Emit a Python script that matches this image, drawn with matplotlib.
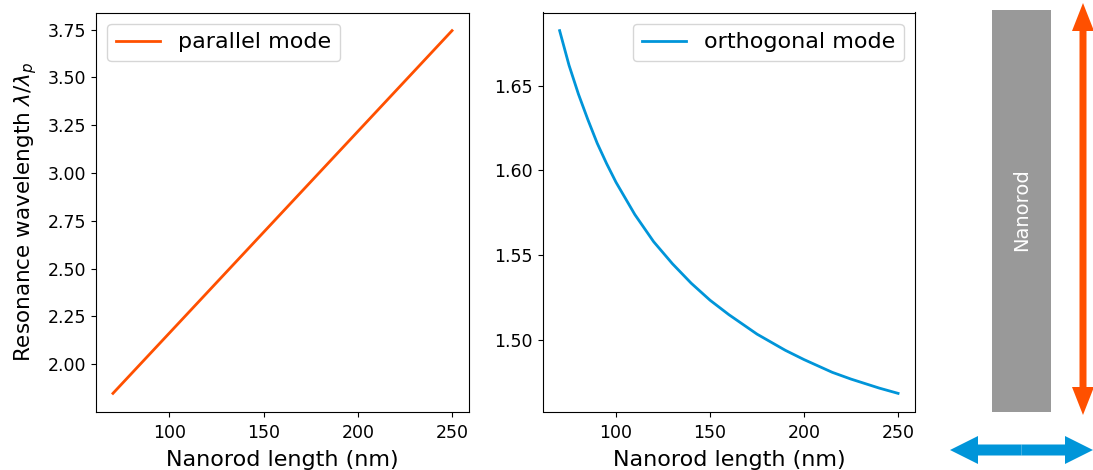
import matplotlib
matplotlib.use("Agg")
import matplotlib.pyplot as plt
from matplotlib.patches import Rectangle, FancyArrow

# Data
length_par = [70, 100, 150, 200, 250]
res_par = [1.848, 2.164, 2.691, 3.218, 3.745]

length_orth = [70, 75, 80, 85, 90, 95, 100, 110, 120, 130, 140, 150, 160, 175, 190, 200, 215, 225, 240, 250]
res_orth = [1.6824, 1.662, 1.645, 1.630, 1.616, 1.604, 1.593, 1.574, 1.558, 1.545, 1.5335, 1.5235, 1.515,
            1.5035, 1.494, 1.4885, 1.481, 1.477, 1.4717, 1.4686]

ORANGE = "#ff5000"
BLUE = "#0095d9"
GRAY = "#999999"

W, H = 1093, 470
fig = plt.figure(figsize=(W / 100, H / 100), dpi=100)

ax1 = fig.add_axes([96 / W, 1 - 411.5 / H, 373 / W, 399 / H])
ax2 = fig.add_axes([542.7 / W, 1 - 411.5 / H, 372.3 / W, 399 / H])

ax1.plot(length_par, res_par, color=ORANGE, lw=2, label="parallel mode")
ax2.plot(length_orth, res_orth, color=BLUE, lw=2, label="orthogonal mode")

for ax in (ax1, ax2):
    ax.set_xlabel("Nanorod length (nm)", fontsize=16, labelpad=6)
    ax.tick_params(labelsize=12.5)
    ax.tick_params(axis="x", pad=5.5)
    ax.set_xticks([100, 150, 200, 250])
ax1.set_ylabel(r"Resonance wavelength $\lambda/\lambda_p$", fontsize=15.5, labelpad=6)
ax1.legend(loc="upper left", fontsize=16)
ax2.legend(loc="upper right", fontsize=16)

# Schematic overlay (pixel coordinates)
ax3 = fig.add_axes([0, 0, 1, 1], zorder=-1)
ax3.set_xlim(0, W)
ax3.set_ylim(H, 0)
ax3.axis("off")
ax3.patch.set_visible(False)
ax3.add_patch(Rectangle((992, 10), 59, 401.5, color=GRAY, lw=0))
ax3.text(1021.5, 210, "Nanorod", color="white", rotation=90, ha="center", va="center", fontsize=14)

cx, cy = 1083, 209
for ty in (3, 415):
    ax3.add_patch(FancyArrow(cx, cy, 0, ty - cy, width=7, head_width=22, head_length=28,
                             length_includes_head=True, color=ORANGE, lw=0))
bx, by = 1021.5, 450
for tx in (950, 1093):
    ax3.add_patch(FancyArrow(bx, by, tx - bx, 0, width=11, head_width=28, head_length=28,
                             length_includes_head=True, color=BLUE, lw=0))

fig.savefig("out.png", dpi=100)
